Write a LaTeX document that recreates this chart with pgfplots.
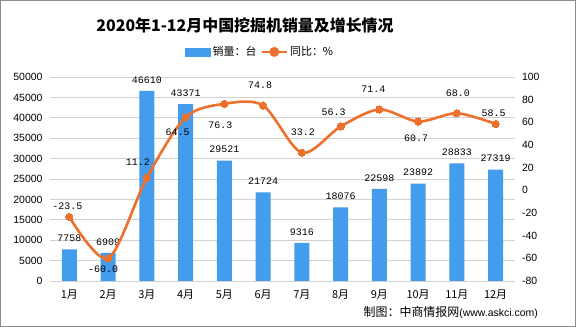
\documentclass[border=0pt]{standalone}
\usepackage{pgfplots}
\pgfplotsset{compat=1.18}
\usepackage{pgfplotstable}
\usepackage{fontspec}
\setmainfont{Liberation Sans}
\newfontfamily\cjk{Noto Sans CJK SC}
\newfontfamily\mono{Liberation Mono}
\definecolor{barblue}{RGB}{68,157,236}
\definecolor{lineorange}{RGB}{237,112,45}
\pgfplotstableread{
x sales
1 7758
2 6909
3 46610
4 43371
5 29521
6 21724
7 9316
8 18076
9 22598
10 23892
11 28833
12 27319
}\salestable
\pgfplotstableread{
x yoy lab dx dy
1 -23.5 -23.5 -2 11
2 -60.0 -60.0 -5 -11
3 11.2 11.2 -9 15
4 64.5 64.5 -8 -15
5 76.3 76.3 -4 -21
6 74.8 74.8 -3 20
7 33.2 33.2 1 20
8 56.3 56.3 -7 14
9 71.4 71.4 -6 20
10 60.7 60.7 -2 -17
11 68.0 68.0 1 20
12 58.5 58.5 -2 11
}\yoytable
\begin{document}
\begin{tikzpicture}
\fill[white] (0,0) rectangle (576bp,327bp);
\begin{axis}[
  at={(50bp,46bp)}, anchor=south west,
  scale only axis, width=465bp, height=204bp,
  xmin=0.5, xmax=12.5, ymin=0, ymax=50000,
  ytick={0,5000,...,50000},
  xtick={1,...,12},
  xticklabels={1月,2月,3月,4月,5月,6月,7月,8月,9月,10月,11月,12月},
  xticklabel style={font=\cjk\fontsize{11}{13}\selectfont, yshift=-5bp},
  yticklabel style={font=\fontsize{10.5}{12}\selectfont, xshift=-4bp},
  /pgf/number format/1000 sep={},
  /pgf/number format/assume math mode=true,
  scaled y ticks=false,
  axis line style={draw=none},
  major tick length=0pt,
  ymajorgrids, grid style={color=black!18, line width=0.8bp},
  clip=false,
]
\addplot[ybar, bar width=15bp, fill=barblue, draw=none,
  point meta=explicit symbolic,
  nodes near coords,
  nodes near coords style={font=\mono\fontsize{10}{12}\selectfont, text=black, anchor=south, yshift=4bp}]
  table[x=x, y=sales, meta=sales]{\salestable};
\end{axis}
\begin{axis}[
  at={(50bp,46bp)}, anchor=south west,
  scale only axis, width=465bp, height=204bp,
  xmin=0.5, xmax=12.5, ymin=-80, ymax=100,
  ytick={-80,-60,...,100},
  axis y line*=right,
  hide x axis,
  yticklabel style={font=\fontsize{10.5}{12}\selectfont, xshift=3.5bp},
  /pgf/number format/assume math mode=true,
  axis line style={draw=none},
  major tick length=0pt,
  clip=false,
  legend style={at={(0.452,1.123)}, anchor=center, draw=none, fill=none,
    font=\cjk\fontsize{11}{13}\selectfont, legend columns=-1,
    /tikz/every even column/.append style={column sep=2bp},
    inner sep=0pt},
]
\addlegendimage{legend image code/.code={\fill[barblue] (0bp,-4bp) rectangle (25bp,4bp);}}
\addlegendentry{销量：台}
\addplot[lineorange, line width=2.6bp, smooth, tension=0.5,
  mark=*, mark size=3.6bp, mark options={fill=lineorange, draw=lineorange, line width=0pt},
  legend image code/.code={\draw[lineorange, line width=2.6bp] (0bp,0bp) -- (25bp,0bp); \fill[lineorange] (12.5bp,0bp) circle (3.6bp);},
  point meta=explicit symbolic,
  visualization depends on={\thisrow{dx} \as \mydx},
  visualization depends on={\thisrow{dy} \as \mydy},
  nodes near coords,
  nodes near coords style={font=\mono\fontsize{10}{12}\selectfont, text=black, anchor=center, xshift=\mydx bp, yshift=\mydy bp}]
  table[x=x, y=yoy, meta=lab]{\yoytable};
\addlegendentry{同比：\%}
\end{axis}
\node[font=\cjk\bfseries\fontsize{16}{19}\selectfont] at (245bp,302bp) {2020年1-12月中国挖掘机销量及增长情况};
\node[anchor=east, inner sep=0pt] at (538bp,14bp) {\cjk\fontsize{12}{14}\selectfont 制图：中商情报网\fontsize{10.5}{12}\selectfont\rmfamily(www.askci.com)};
\draw[black!45, line width=1bp] (0.5bp,0.5bp) rectangle (575.5bp,326.5bp);
\pgfresetboundingbox
\useasboundingbox (0,0) rectangle (576bp,327bp);
\end{tikzpicture}
\end{document}
